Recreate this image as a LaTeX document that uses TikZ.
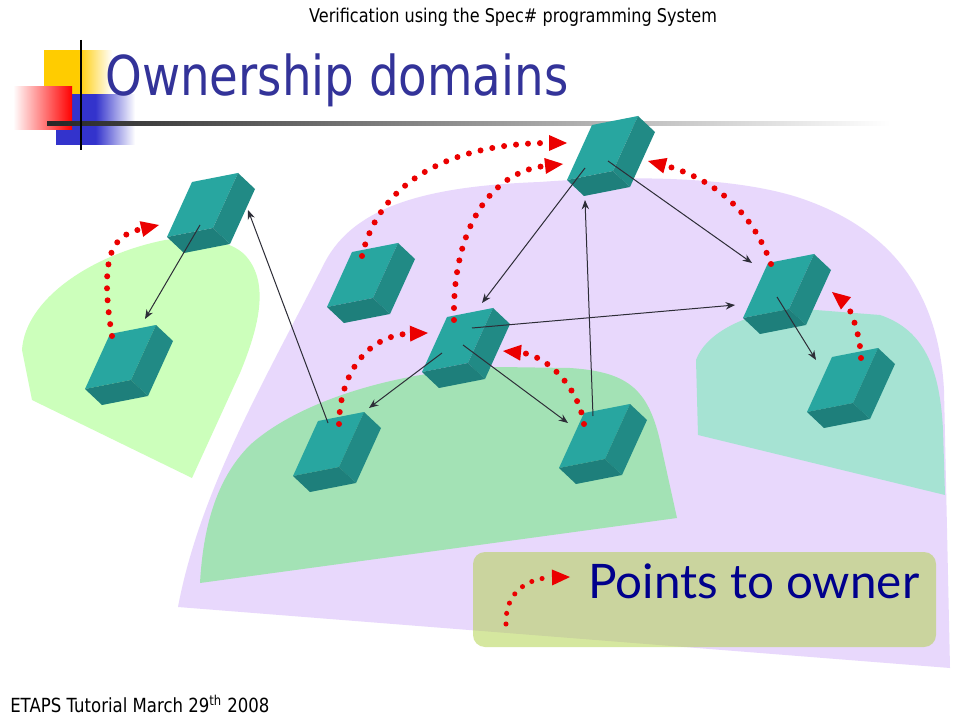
\documentclass[tikz,border=0pt]{standalone}
\usepackage{fontspec}
\usetikzlibrary{arrows.meta}
\newfontfamily\headfont{DejaVu Sans}[FakeStretch=0.85]
\newfontfamily\legendfont{Lato}
\definecolor{titleblue}{RGB}{51,51,153}
\definecolor{legendblue}{RGB}{0,0,140}
\definecolor{ownred}{RGB}{235,0,0}
\definecolor{linkgray}{RGB}{45,45,55}
\definecolor{boxfront}{RGB}{40,166,160}
\definecolor{boxside}{RGB}{33,138,133}
\definecolor{boxbottom}{RGB}{30,127,123}
\definecolor{domainpurple}{RGB}{232,216,252}
\definecolor{domaingreen}{RGB}{163,226,181}
\definecolor{domainteal}{RGB}{166,227,211}
\definecolor{domainlime}{RGB}{204,255,187}
\definecolor{legendfill}{RGB}{173,209,65}
\definecolor{logoyellow}{RGB}{255,204,0}
\definecolor{logored}{RGB}{255,0,0}
\definecolor{logoblue}{RGB}{51,51,204}
\tikzset{
  refarrow/.style={draw=linkgray, line width=0.75pt, -{Stealth[length=7pt,width=5.5pt]}},
  ownerarrow/.style={draw=ownred, line width=4.5pt, line cap=round, dash pattern=on 0pt off 9pt,
    -{Triangle[length=13.5pt,width=12pt,line width=0pt]}},
  legendarrow/.style={ownerarrow, line width=3.8pt, dash pattern=on 0pt off 8pt},
}
% one object: front, side and bottom face, named by its top left corner
\newcommand{\ownbox}[2]{%
  \coordinate (#1) at (#2);
  \fill[boxfront] (#1) -- ++(46,-9) -- ++(-25,55) -- ++(-46,9) -- cycle;
  \fill[boxside] ([shift={(46,-9)}]#1) -- ++(17,16) -- ++(-25,55) -- ++(-17,-16) -- cycle;
  \fill[boxbottom] ([shift={(-25,55)}]#1) -- ++(46,-9) -- ++(17,16) -- ++(-46,9) -- cycle;
}
\begin{document}
\begin{tikzpicture}[x=0.75pt,y=-0.75pt]
\useasboundingbox (0,0) rectangle (960,720);
\fill[white] (0,0) rectangle (960,720);
% logo and rule
\shade[left color=logoyellow, right color=white, middle color=logoyellow] (44,51) rectangle (112,95);
\shade[left color=logoblue, right color=white, middle color=logoblue] (56,95) rectangle (135,145);
\shade[left color=white, right color=logored] (13,87) rectangle (72,130);
\shade[left color=black!85, right color=white] (47,122) rectangle (890,126);
\draw[line width=1.5pt] (81,40) -- (81,150);
\node[anchor=base] (header) at (513,23) {\headfont\fontsize{14.2}{16}\selectfont Verification using the Spec\# programming System};
\node[anchor=base west, inner sep=0pt, text=titleblue] (title) at (105,96) {\headfont\fontsize{41.2}{48}\selectfont Ownership domains};
\node[anchor=base west, inner sep=0pt] (footer) at (10,712) {\headfont\fontsize{14.6}{16}\selectfont ETAPS Tutorial March 29\textsuperscript{th} 2008};
% domains
\fill[domainpurple] (178,607) -- (950,668) -- (944,390) .. controls (938,280) and (880,225) .. (800,198)
  .. controls (730,175) and (620,176) .. (540,182) .. controls (430,186) and (355,205) .. (325,262)
  .. controls (265,380) and (200,490) .. (178,607) -- cycle;
\fill[domaingreen] (200,583) -- (677,518) -- (662,450) .. controls (650,390) and (630,372) .. (570,368)
  -- (500,367) .. controls (400,370) and (300,400) .. (250,445) .. controls (215,480) and (203,530) .. (200,583) -- cycle;
\fill[domainteal] (698,435) -- (945,495) -- (943,430) .. controls (940,370) and (925,330) .. (880,315)
  -- (790,308) .. controls (740,315) and (705,335) .. (696,360) -- cycle;
\fill[domainlime] (32,400) -- (192,478) -- (240,373) .. controls (262,320) and (268,280) .. (245,255)
  .. controls (230,240) and (200,236) .. (165,240) .. controls (90,255) and (25,300) .. (22,350) -- cycle;
% legend
\fill[legendfill, opacity=0.5, rounded corners=9pt] (473,552) rectangle (936,647);
\node[anchor=base west, inner sep=0pt, text=legendblue] (legtext) at (588,598) {\legendfont\fontsize{35.7}{40}\selectfont Points to owner};
\coordinate (legfrom) at (506,624);
\coordinate (legto) at (570,577);
\draw[legendarrow] (legfrom) .. controls (505,590) and (530,578) .. (legto);
% objects
\ownbox{leftup}{192,182}
\ownbox{leftdown}{110,334}
\ownbox{loner}{352,252}
\ownbox{top}{592,125}
\ownbox{centre}{447,317}
\ownbox{right}{768,263}
\ownbox{farright}{832,357}
\ownbox{lowleft}{318,421}
\ownbox{lowright}{584,413}
% references
\draw[refarrow] ([shift={(8,43)}]leftup) -- ([shift={(35,-15)}]leftdown);
\draw[refarrow] ([shift={(10,2)}]lowleft) -- ([shift={(56,28)}]leftup);
\draw[refarrow] ([shift={(-7,43)}]top) -- ([shift={(35,-14)}]centre);
\draw[refarrow] ([shift={(16,36)}]top) -- ([shift={(-16,0)}]right);
\draw[refarrow] ([shift={(9,3)}]lowright) -- ([shift={(-7,75)}]top);
\draw[refarrow] ([shift={(25,11)}]centre) -- ([shift={(-33,42)}]right);
\draw[refarrow] ([shift={(-5,36)}]centre) -- ([shift={(51,-13)}]lowleft);
\draw[refarrow] ([shift={(16,28)}]centre) -- ([shift={(-16,10)}]lowright);
\draw[refarrow] ([shift={(9,34)}]right) -- ([shift={(-16,3)}]farright);
% owners
\draw[ownerarrow] ([shift={(2,2)}]leftdown) .. controls +(-14,-86) and +(-44,10) .. ([shift={(-33,43)}]leftup);
\draw[ownerarrow] ([shift={(10,4)}]loner) .. controls +(20,-86) and +(-97,0) .. ([shift={(-25,18)}]top);
\draw[ownerarrow] ([shift={(7,3)}]centre) .. controls +(-2,-90) and +(-73,8) .. ([shift={(-29,39)}]top);
\draw[ownerarrow] ([shift={(3,1)}]right) .. controls +(-23,-64) and +(52,14) .. ([shift={(56,36)}]top);
\draw[ownerarrow] ([shift={(29,1)}]farright) .. controls +(-1,-28) and +(16,13) .. ([shift={(64,29)}]right);
\draw[ownerarrow] ([shift={(21,3)}]lowleft) .. controls +(1,-54) and +(-58,2) .. ([shift={(-19,16)}]centre);
\draw[ownerarrow] ([shift={(0,11)}]lowright) .. controls +(-6,-39) and +(42,4) .. ([shift={(56,34)}]centre);
\end{tikzpicture}
\end{document}
